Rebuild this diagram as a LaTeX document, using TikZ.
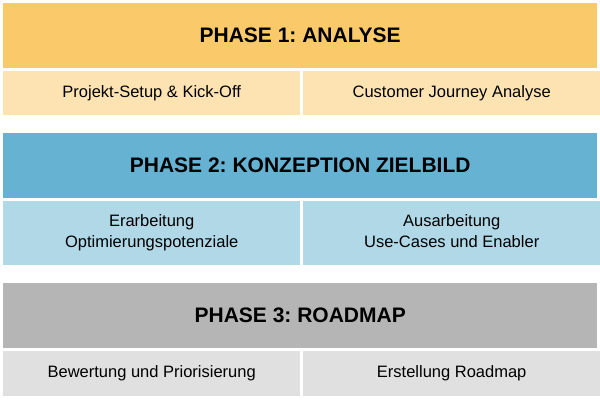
\documentclass[tikz,border=0pt]{standalone}
\usepackage{fontspec}
\setmainfont{Liberation Sans}
\frenchspacing
\definecolor{ana}{HTML}{F9C96A}
\definecolor{analight}{HTML}{FDE3B2}
\definecolor{kon}{HTML}{66B2D2}
\definecolor{konlight}{HTML}{B0D8E7}
\definecolor{road}{HTML}{B5B5B5}
\definecolor{roadlight}{HTML}{E0E0E0}
\tikzset{
  phase/.style={minimum width=594pt, inner sep=0pt, font=\fontsize{21}{24}\selectfont\bfseries, anchor=north west},
  task/.style={minimum width=297pt, inner sep=0pt, align=center, font=\fontsize{16.5}{21}\selectfont, anchor=north west}
}
\begin{document}
\begin{tikzpicture}
[x=1pt,y=-1pt]
\useasboundingbox (0,0) rectangle (600,400);
% phase 1
\node [phase, fill=ana, minimum height=65pt] (p1) at (3,3) {PHASE 1: ANALYSE};
\node [task, fill=analight, minimum height=44pt] (p1a) at (3,71) {Projekt-Setup \& Kick-Off};
\node [task, fill=analight, minimum height=44pt] (p1b) at (303,71) {Customer Journey Analyse};
% phase 2
\node [phase, fill=kon, minimum height=65pt] (p2) at (3,133) {PHASE 2: KONZEPTION ZIELBILD};
\node [task, fill=konlight, minimum height=64pt] (p2a) at (3,201) {\strut Erarbeitung\\\strut Optimierungspotenziale};
\node [task, fill=konlight, minimum height=64pt] (p2b) at (303,201) {\strut Ausarbeitung\\\strut Use-Cases und Enabler};
% phase 3
\node [phase, fill=road, minimum height=65pt] (p3) at (3,283) {PHASE 3: ROADMAP};
\node [task, fill=roadlight, minimum height=45pt] (p3a) at (3,351) {Bewertung und Priorisierung};
\node [task, fill=roadlight, minimum height=45pt] (p3b) at (303,351) {Erstellung Roadmap};
\end{tikzpicture}
\end{document}
